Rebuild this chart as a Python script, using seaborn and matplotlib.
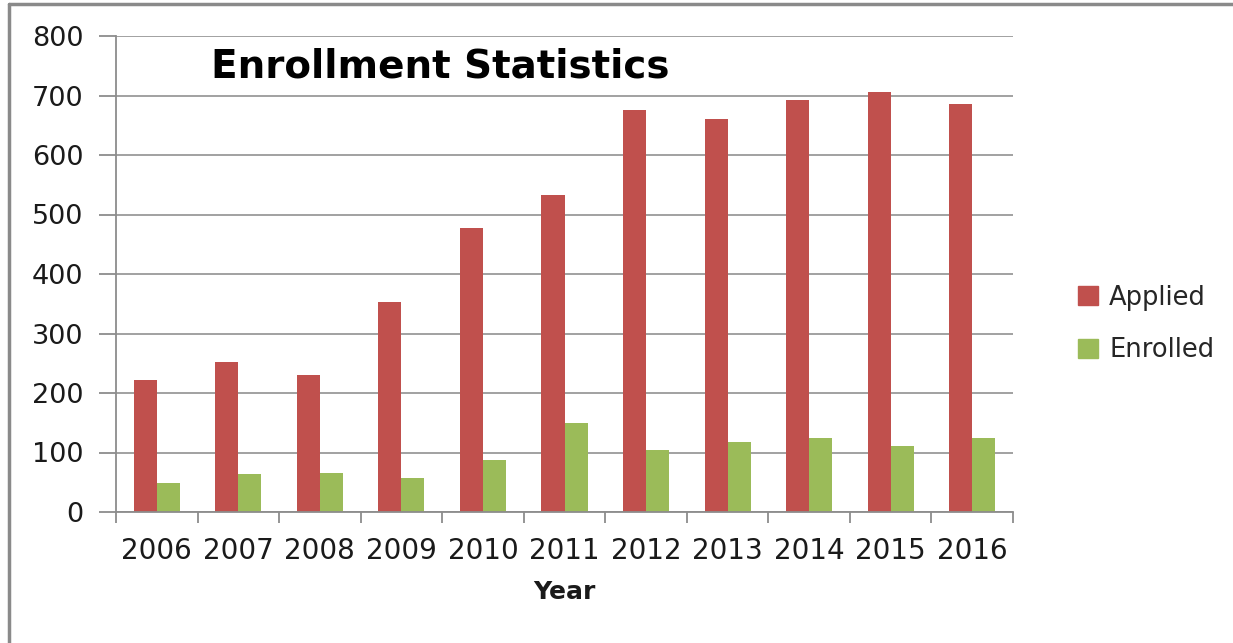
import matplotlib
matplotlib.use("Agg")
import matplotlib.pyplot as plt
from matplotlib.lines import Line2D
import seaborn as sns
import pandas as pd
import numpy as np

years = ["2006", "2007", "2008", "2009", "2010", "2011", "2012", "2013", "2014", "2015", "2016"]
applied = [222, 252, 231, 353, 478, 532, 675, 661, 692, 706, 685]
enrolled = [49, 64, 66, 57, 87, 149, 104, 118, 125, 111, 125]
series_names = ["Applied", "Enrolled"]
colors = ["#C0504D", "#9BBB59"]
y_ticks = [0, 100, 200, 300, 400, 500, 600, 700, 800]

df = pd.DataFrame({
    "Year": years * 2,
    "Value": applied + enrolled,
    "Series": [series_names[0]] * len(years) + [series_names[1]] * len(years),
})

sns.set_style("white")
plt.rcParams["font.family"] = ["DejaVu Sans"]

W, H = 1233, 643
fig = plt.figure(figsize=(W / 100, H / 100), dpi=100)
ax = fig.add_axes([116 / W, 1 - 512 / H, (1013 - 116) / W, (512 - 36) / H])

sns.barplot(data=df, x="Year", y="Value", hue="Series", order=years,
            hue_order=series_names, palette=colors, width=0.565,
            linewidth=0, saturation=1, ax=ax, legend=True)

ax.set_ylim(0, 800)
ax.set_xlim(-0.5, len(years) - 0.5)
ax.set_yticks(y_ticks)
ax.set_yticklabels([str(v) for v in y_ticks], fontsize=19.5, color="#1a1a1a")
ax.set_xticks(range(len(years)))
ax.set_xticklabels(years, fontsize=20, color="#1a1a1a")
ax.set_xticks(np.arange(-0.5, len(years), 1.0), minor=True)
ax.tick_params(axis="x", which="major", length=0, pad=18)
ax.tick_params(axis="x", which="minor", length=8, width=1.3, color="#8C8C8C", direction="out", bottom=True)
ax.tick_params(axis="y", which="major", length=12, width=1.3, color="#8C8C8C", direction="out", pad=11.5, left=True)

ax.grid(axis="y", color="#9A9A9A", linewidth=1.3)
ax.set_axisbelow(True)
for s in ["top", "right"]:
    ax.spines[s].set_visible(False)
for s in ["left", "bottom"]:
    ax.spines[s].set_color("#8C8C8C")
    ax.spines[s].set_linewidth(1.3)

ax.set_ylabel("")
ax.set_xlabel("Year", fontsize=18, fontweight="bold", labelpad=11, color="#1a1a1a")

ax.text(0.106, 0.935, "Enrollment Statistics", transform=ax.transAxes,
        fontsize=28, fontweight="bold", color="black", va="center", ha="left")

ax.legend_.remove()
handles = [plt.Rectangle((0, 0), 1, 1, color=c) for c in colors]
fig.legend(handles, series_names, loc="center left",
           bbox_to_anchor=(1068 / W, 1 - 324 / H), frameon=False,
           fontsize=18.5, handlelength=0.75, handleheight=0.75,
           handletextpad=0.45, labelspacing=1.05, borderaxespad=0)

fig.add_artist(Line2D([9 / W, 1], [1 - 4 / H, 1 - 4 / H], transform=fig.transFigure,
                      color="#8A8A8A", linewidth=2.5))
fig.add_artist(Line2D([9 / W, 9 / W], [0, 1 - 4 / H], transform=fig.transFigure,
                      color="#8A8A8A", linewidth=2.5))

fig.savefig("out.png", dpi=100)
